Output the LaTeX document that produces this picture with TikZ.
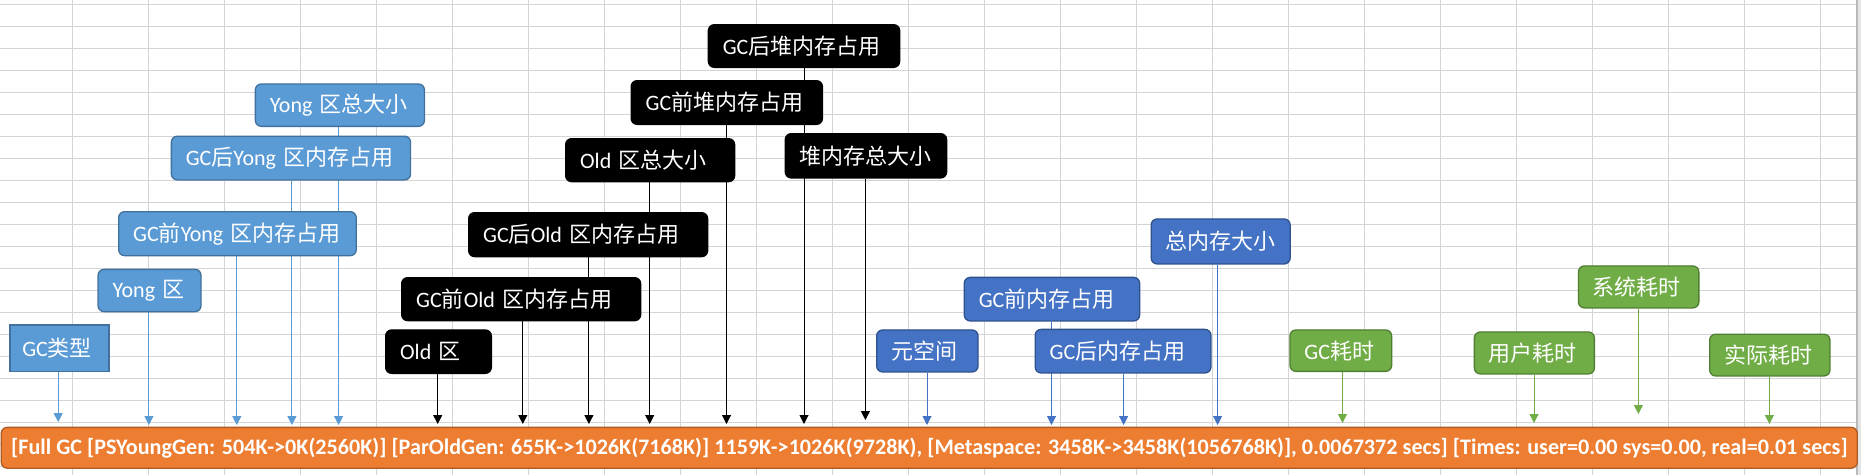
\documentclass[tikz,border=0pt]{standalone}
\usepackage{fontspec}
\setmainfont{Carlito}
\newfontfamily\cjk{Noto Sans CJK SC}
\newcommand\zh[1]{{\cjk #1}}
\usetikzlibrary{arrows.meta}
\pgfdeclarelayer{gridlayer}
\pgfdeclarelayer{linelayer}
\pgfsetlayers{gridlayer,linelayer,main}
\definecolor{lbfill}{HTML}{5B9BD5}
\definecolor{lbline}{HTML}{41719C}
\definecolor{dbfill}{HTML}{4472C4}
\definecolor{dbline}{HTML}{2F528F}
\definecolor{gnfill}{HTML}{70AD47}
\definecolor{gnline}{HTML}{507E32}
\definecolor{orfill}{HTML}{ED7D31}
\definecolor{orline}{HTML}{AE5A21}
\definecolor{gridc}{HTML}{D4D4D4}
\tikzset{
  basebox/.style={anchor=north west, inner xsep=14.5pt, inner ysep=0pt, align=left,
    text=white, font=\fontsize{22}{25}\selectfont, line width=1.3pt, rounded corners=6pt},
  lbbox/.style={basebox, fill=lbfill, draw=lbline},
  sqbox/.style={basebox, fill=lbfill, draw=lbline, sharp corners, inner xsep=12.4pt},
  bkbox/.style={basebox, fill=black, draw=black},
  dbbox/.style={basebox, fill=dbfill, draw=dbline},
  gnbox/.style={basebox, fill=gnfill, draw=gnline},
  tip/.style={-{Triangle[length=9pt,width=9pt]}, line width=1pt},
  lbarrow/.style={tip, draw=lbfill, fill=lbfill},
  bkarrow/.style={tip, draw=black, fill=black},
  dbarrow/.style={tip, draw=dbfill, fill=dbfill},
  gnarrow/.style={tip, draw=gnfill, fill=gnfill},
}
\newcommand\bx[6]{% style, name, x, y, W, H, text follows
  \node[#1, minimum width=#5pt, minimum height=#6pt, text width=#5pt-29pt] (#2) at (#3,#4)}
\begin{document}
\begin{tikzpicture}[x=1pt,y=-1pt]
\useasboundingbox (0,0) rectangle (1861,475);
\begin{pgfonlayer}{gridlayer}
  \fill[white] (0,0) rectangle (1861,475);
  \foreach \k in {0,...,23} {\draw[gridc, line width=1pt] ({72.3+76*\k},0) -- ({72.3+76*\k},475);}
  \foreach \k in {0,...,21} {\draw[gridc, line width=1pt] (0,{4+22*\k}) -- (1861,{4+22*\k});}
  \fill[gray!20] (1856,0) rectangle (1861,475);
  \draw[gray!55, line width=1.5pt] (1856.8,0) -- (1856.8,475);
\end{pgfonlayer}

% light blue group
\bx{lbbox}{yzong}{254.7}{83.3}{169.1}{42.4} {\mbox{Yong \zh{区总大小}}};
\bx{lbbox}{yhou}{170.7}{135.5}{239.2}{43.8} {\mbox{GC\zh{后}Yong \zh{区内存占用}}};
\bx{lbbox}{yqian}{118}{211}{237.6}{44} {\mbox{GC\zh{前}Yong \zh{区内存占用}}};
\bx{lbbox}{yong}{97.4}{268.7}{103}{42.3} {\mbox{Yong \zh{区}}};
\node[sqbox, minimum width=99pt, minimum height=46.4pt, text width=74.2pt] (gctype) at (9.3,324.3) {\mbox{GC\zh{类型}}};

% black group
\bx{bkbox}{houdui}{707.7}{24}{191.3}{42.7} {\mbox{GC\zh{后堆内存占用}}};
\bx{bkbox}{qiandui}{630.5}{80}{191.3}{43.7} {\mbox{GC\zh{前堆内存占用}}};
\bx{bkbox}{oldzong}{565}{138}{169}{43} {\mbox{Old \zh{区总大小}}};
\bx{bkbox}{duizong}{784.6}{133}{161.4}{44.3} {\mbox{\zh{堆内存总大小}}};
\bx{bkbox}{oldhou}{468}{212}{239}{44} {\mbox{GC\zh{后}Old \zh{区内存占用}}};
\bx{bkbox}{oldqian}{401}{277}{239}{43} {\mbox{GC\zh{前}Old \zh{区内存占用}}};
\bx{bkbox}{old}{385}{329.3}{105.7}{43.4} {\mbox{Old \zh{区}}};

% dark blue group
\bx{dbbox}{meta}{876}{329.3}{101.4}{42} {\mbox{\zh{元空间}}};
\bx{dbbox}{qiannc}{963.6}{276.7}{175.4}{43.6} {\mbox{GC\zh{前内存占用}}};
\bx{dbbox}{hounc}{1034.5}{328.7}{175.8}{43.6} {\mbox{GC\zh{后内存占用}}};
\bx{dbbox}{zongnc}{1150.5}{218.3}{139}{45} {\mbox{\zh{总内存大小}}};

% green group
\bx{gnbox}{gct}{1289.3}{329.3}{101.7}{41.4} {\mbox{GC\zh{耗时}}};
\bx{gnbox}{user}{1473.7}{331.3}{120}{42} {\mbox{\zh{用户耗时}}};
\bx{gnbox}{sys}{1577.8}{265.3}{120.4}{42} {\mbox{\zh{系统耗时}}};
\bx{gnbox}{real}{1709}{333.5}{120.3}{41.8} {\mbox{\zh{实际耗时}}};

% bar
\node[anchor=north west, fill=orfill, draw=orline, line width=1.3pt, rounded corners=6pt,
  minimum width=1856pt, minimum height=40.8pt, inner sep=0pt] (bar) at (0.6,426.7)
  {\resizebox{1836pt}{!}{\bfseries\color{white}[Full GC [PSYoungGen: 504K->0K(2560K)] [ParOldGen: 655K->1026K(7168K)] 1159K->1026K(9728K), [Metaspace: 3458K->3458K(1056768K)], 0.0067372 secs] [Times: user=0.00 sys=0.00, real=0.01 secs]}};

% tips
\coordinate (t1) at (58.2,422);
\coordinate (t2) at (148.9,425);
\coordinate (t3) at (236.8,425);
\coordinate (t4) at (291.9,425);
\coordinate (t5) at (338.6,425);
\coordinate (t6) at (437.7,424);
\coordinate (t7) at (522.8,424);
\coordinate (t8) at (588.9,424);
\coordinate (t9) at (649.7,424);
\coordinate (t10) at (726.5,424);
\coordinate (t11) at (804,424);
\coordinate (t12) at (865.4,420);
\coordinate (t13) at (927,425);
\coordinate (t14) at (1051.5,425);
\coordinate (t15) at (1123.6,425);
\coordinate (t16) at (1217.6,425);
\coordinate (t17) at (1342.5,423);
\coordinate (t18) at (1534,423);
\coordinate (t19) at (1638.4,414);
\coordinate (t20) at (1769.4,424);

\begin{pgfonlayer}{linelayer}
  \draw[lbarrow] (gctype.south -| t1) -- (t1);
  \draw[lbarrow] (yong.south -| t2) -- (t2);
  \draw[lbarrow] (yqian.south -| t3) -- (t3);
  \draw[lbarrow] (yhou.south -| t4) -- (t4);
  \draw[lbarrow] (yzong.south -| t5) -- (t5);
  \draw[bkarrow] (old.south -| t6) -- (t6);
  \draw[bkarrow] (oldqian.south -| t7) -- (t7);
  \draw[bkarrow] (oldhou.south -| t8) -- (t8);
  \draw[bkarrow] (oldzong.south -| t9) -- (t9);
  \draw[bkarrow] (qiandui.south -| t10) -- (t10);
  \draw[bkarrow] (houdui.south -| t11) -- (t11);
  \draw[bkarrow] (duizong.south -| t12) -- (t12);
  \draw[dbarrow] (meta.south -| t13) -- (t13);
  \draw[dbarrow] (qiannc.south -| t14) -- (t14);
  \draw[dbarrow] (hounc.south -| t15) -- (t15);
  \draw[dbarrow] (zongnc.south -| t16) -- (t16);
  \draw[gnarrow] (gct.south -| t17) -- (t17);
  \draw[gnarrow] (user.south -| t18) -- (t18);
  \draw[gnarrow] (sys.south -| t19) -- (t19);
  \draw[gnarrow] (real.south -| t20) -- (t20);
\end{pgfonlayer}
\end{tikzpicture}
\end{document}
